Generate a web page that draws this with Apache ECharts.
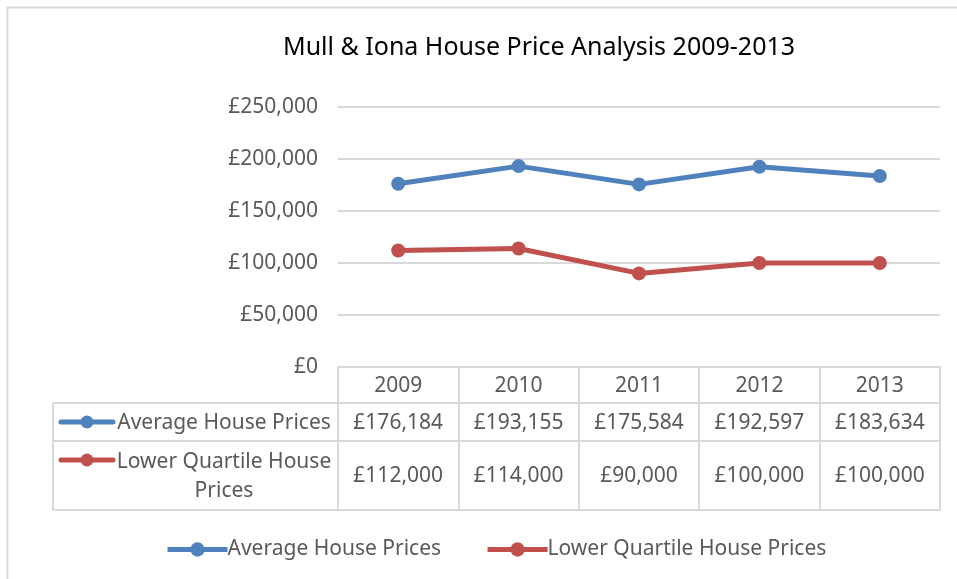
<!DOCTYPE html>
<html>
<head>
<meta charset="utf-8">
<script src="https://cdn.jsdelivr.net/npm/echarts@6/dist/echarts.min.js"></script>
<style>
  html, body { margin: 0; padding: 0; background: #fff; }
  #main { width: 957px; height: 579px; }
</style>
</head>
<body>
<div id="main"></div>
<script>
var years = ['2009', '2010', '2011', '2012', '2013'];
var averagePrices = [176184, 193155, 175584, 192597, 183634];
var lowerQuartilePrices = [112000, 114000, 90000, 100000, 100000];
var yTicks = [0, 50000, 100000, 150000, 200000, 250000];

var blue = '#4F81BD';
var red = '#C0504D';
var grey = '#595959';
var lineGrey = '#D9D9D9';
var font = '"Noto Sans", sans-serif';
var fs = 21;

// plot area
var gLeft = 338, gRight = 940, gTop = 107, gBottom = 367;
var colW = (gRight - gLeft) / years.length;
var tableLeft = 53;
var rowLines = [403, 441, 510];

function money(v) {
  return '£' + v.toLocaleString('en-GB');
}

var myChart = echarts.init(document.getElementById('main'));

var graphics = [];
// outer chart border
graphics.push({
  type: 'rect', shape: { x: 7.5, y: 7.5, width: 1000, height: 1000 },
  style: { fill: null, stroke: lineGrey, lineWidth: 2 }, silent: true
});
// table lines
rowLines.forEach(function (y) {
  graphics.push({
    type: 'line', shape: { x1: tableLeft, y1: y, x2: gRight, y2: y },
    style: { stroke: lineGrey, lineWidth: 2 }
  });
});
graphics.push({
  type: 'line', shape: { x1: tableLeft, y1: rowLines[0], x2: tableLeft, y2: rowLines[2] },
  style: { stroke: lineGrey, lineWidth: 2 }
});

var rows = [
  { name: 'Average House Prices', label: 'Average House Prices', color: blue, data: averagePrices, y0: rowLines[0], y1: rowLines[1] },
  { name: 'Lower Quartile House Prices', label: 'Lower Quartile House\nPrices', color: red, data: lowerQuartilePrices, y0: rowLines[1], y1: rowLines[2] }
];
rows.forEach(function (r) {
  var cy = (r.y0 + r.y1) / 2 + 1;
  var keyY = r.y0 + 19;
  graphics.push({
    type: 'line', shape: { x1: 61, y1: keyY, x2: 113, y2: keyY },
    style: { stroke: r.color, lineWidth: 5, lineCap: 'round' }
  });
  graphics.push({
    type: 'circle', shape: { cx: 87, cy: keyY, r: 6.5 },
    style: { fill: r.color }
  });
  graphics.push({
    type: 'text', x: 224, y: cy,
    style: {
      text: r.label, fill: grey, font: fs + 'px ' + font,
      align: 'center', verticalAlign: 'middle', lineHeight: 29
    }
  });
  r.data.forEach(function (v, i) {
    graphics.push({
      type: 'text', x: gLeft + colW * (i + 0.5), y: cy,
      style: { text: money(v), fill: grey, font: fs + 'px ' + font, align: 'center', verticalAlign: 'middle' }
    });
  });
});

myChart.setOption({
  animation: false,
  title: {
    text: 'Mull & Iona House Price Analysis 2009-2013',
    left: 534, top: 30, textAlign: 'center',
    textStyle: { color: '#000', fontSize: 25, fontWeight: 'normal', fontFamily: font }
  },
  legend: {
    bottom: 14, left: 160, itemGap: 44, itemWidth: 60, itemHeight: 18,
    lineStyle: { width: 5 },
    textStyle: { color: grey, fontSize: fs, fontFamily: font, padding: [0, 0, 0, -5] },
    data: rows.map(function (r) { return r.name; })
  },
  grid: { left: gLeft, right: 957 - gRight, top: gTop, bottom: 579 - gBottom, containLabel: false },
  xAxis: {
    type: 'category', data: years, boundaryGap: true,
    axisLine: { lineStyle: { color: lineGrey, width: 2 } },
    axisTick: { show: true, length: rowLines[2] - gBottom, lineStyle: { color: lineGrey, width: 2 } },
    axisLabel: { color: grey, fontSize: fs, fontFamily: font, margin: 9 }
  },
  yAxis: {
    type: 'value', min: yTicks[0], max: yTicks[yTicks.length - 1], interval: yTicks[1] - yTicks[0],
    axisLine: { show: false }, axisTick: { show: false },
    splitLine: { lineStyle: { color: lineGrey, width: 2 } },
    axisLabel: { color: grey, fontSize: fs, fontFamily: font, margin: 20, formatter: money }
  },
  series: rows.map(function (r) {
    return {
      name: r.name, type: 'line', data: r.data,
      symbol: 'circle', symbolSize: 14,
      lineStyle: { color: r.color, width: 5 },
      itemStyle: { color: r.color }
    };
  }),
  graphic: graphics
});
</script>
</body>
</html>
